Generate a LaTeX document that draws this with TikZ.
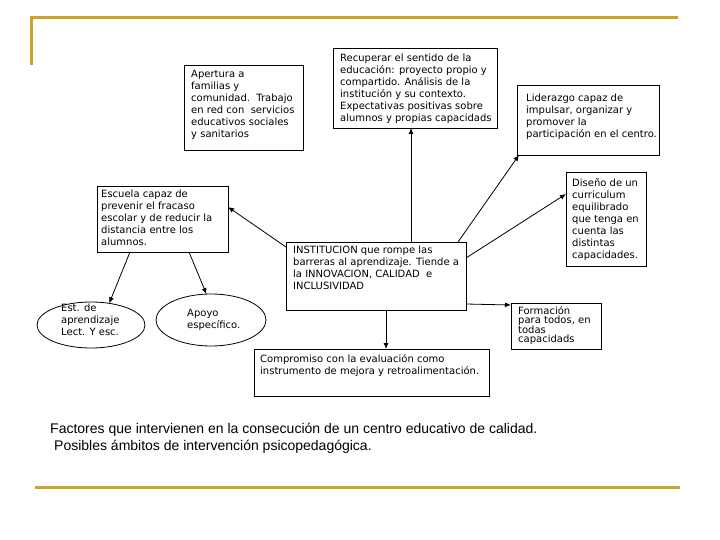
\documentclass[tikz,border=0pt]{standalone}
\usepackage{fontspec}
\setmainfont{DejaVu Sans}
\newfontfamily\capfont{Liberation Sans}
\usetikzlibrary{arrows.meta,shapes.geometric}
\definecolor{gold}{RGB}{200,165,45}
\tikzset{
  boxnode/.style={draw, line width=0.8pt, rectangle, inner sep=0pt, outer sep=0pt, anchor=north west},
  ellnode/.style={draw, line width=0.8pt, ellipse, inner sep=0pt, outer sep=0pt},
  txt/.style={anchor=north west, inner sep=0pt, align=left, font={\fontsize{10}{12}\selectfont}},
  conn/.style={line width=0.8pt, -{Latex[length=6pt,width=5pt]}},
  goldline/.style={gold, line width=3pt}
}
\begin{document}
\begin{tikzpicture}[x=1pt,y=-1pt]
\fill[white] (0,0) rectangle (720,540);
\useasboundingbox (0,0) rectangle (720,540);

% gold frame lines
\draw[goldline] (30,18) -- (678,18);
\draw[goldline] (31,17) -- (31,65);
\draw[goldline] (35,487) -- (680,487);

% boxes
\node[boxnode, minimum width=119pt, minimum height=85pt] (apert) at (184,65) {};
\node[boxnode, minimum width=164pt, minimum height=80pt] (recup) at (333,48) {};
\node[boxnode, minimum width=142pt, minimum height=70pt] (lider) at (517,85) {};
\node[boxnode, minimum width=131pt, minimum height=66pt] (escuela) at (97,186) {};
\node[boxnode, minimum width=180pt, minimum height=68pt] (inst) at (286,242) {};
\node[boxnode, minimum width=80pt, minimum height=94pt] (disen) at (566,172) {};
\node[boxnode, minimum width=90pt, minimum height=46pt] (form) at (511,303) {};
\node[boxnode, minimum width=235pt, minimum height=47pt] (comp) at (254,349) {};
\node[ellnode, minimum width=108pt, minimum height=46pt] (est) at (91,325) {};
\node[ellnode, minimum width=110pt, minimum height=52pt] (apoyo) at (211,320) {};

% texts
\node[txt] (tapert) at (191,70.5) {Apertura a\\familias y\\comunidad.\ \ Trabajo\\en red con\ \ servicios\\educativos sociales\\y sanitarios};
\node[txt] (trecup) at (340,53.5) {Recuperar el sentido de la\\educación: proyecto propio y\\compartido. Análisis de la\\institución y su contexto.\\Expectativas positivas sobre\\alumnos y propias capacidads};
\node[txt] (tlider) at (526,93.5) {Liderazgo capaz de\\impulsar, organizar y\\promover la\\participación en el centro.};
\node[txt] (tescuela) at (101,189.5) {Escuela capaz de\\prevenir el fracaso\\escolar y de reducir la\\distancia entre los\\alumnos.};
\node[txt] (tinst) at (293,245.5) {INSTITUCION que rompe las\\barreras al aprendizaje. Tiende a\\la INNOVACION, CALIDAD\ \ e\\INCLUSIVIDAD};
\node[txt] (tdisen) at (572,178.5) {Diseño de un\\curriculum\\equilibrado\\que tenga en\\cuenta las\\distintas\\capacidades.};
\node[txt, font={\fontsize{10}{8.5}\selectfont}] (tform) at (518,306.5) {Formación\\para todos, en\\todas\\capacidads};
\node[txt] (tcomp) at (260,354.5) {Compromiso con la evaluación como\\instrumento de mejora y retroalimentación.};
\node[txt] (test) at (61,303.5) {Est. de\\aprendizaje\\Lect. Y esc.};
\node[txt] (tapoyo) at (187,309.5) {Apoyo\\específico.};

% caption
\node[txt, font={\capfont\fontsize{14}{17}\selectfont}] (caption) at (50,423) {Factores que intervienen en la consecución de un centro educativo de calidad.\\\hspace*{4pt}Posibles ámbitos de intervención psicopedagógica.};

% connectors
\draw[conn] ([xshift=125pt]inst.north west) -- ([xshift=78pt]recup.south west);
\draw[conn] ([xshift=-8pt]inst.north east) -- ([xshift=2pt]lider.south west);
\draw[conn] ([yshift=-16pt]inst.north east) -- ([yshift=-22pt]disen.north west);
\draw[conn] ([yshift=-5pt]inst.north west) -- ([yshift=-21pt]escuela.north east);
\draw[conn] ([xshift=33pt]escuela.south west) -- (est.50);
\draw[conn] ([xshift=92pt]escuela.south west) -- (apoyo.100);
\draw[conn] ([xshift=100pt]inst.south west) -- ([xshift=132pt]comp.north west);
\draw[conn] ([yshift=6pt]inst.south east) -- ([yshift=-2pt]form.north west);
\end{tikzpicture}
\end{document}
